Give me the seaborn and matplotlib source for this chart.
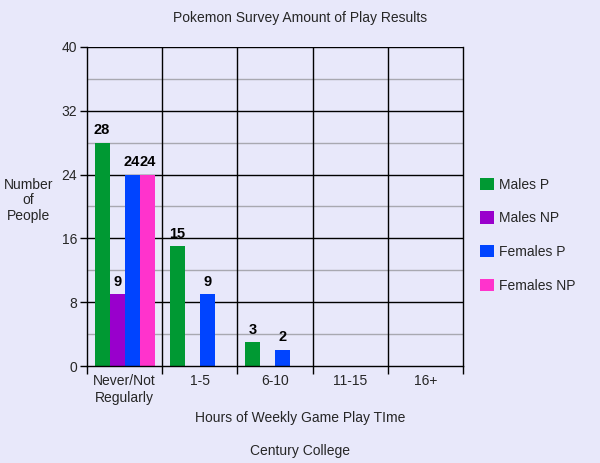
import matplotlib
matplotlib.use("Agg")
import matplotlib.pyplot as plt
from matplotlib.ticker import MultipleLocator, FixedLocator
import seaborn as sns
import pandas as pd
import numpy as np

categories = ["Never/Not\nRegularly", "1-5", "6-10", "11-15", "16+"]
series = ["Males P", "Males NP", "Females P", "Females NP"]
males_p = [28, 15, 3, 0, 0]
males_np = [9, 0, 0, 0, 0]
females_p = [24, 9, 2, 0, 0]
females_np = [24, 0, 0, 0, 0]
colors = ["#009933", "#9900CC", "#0044FF", "#FF33CC"]

rows = []
for s, vals in zip(series, [males_p, males_np, females_p, females_np]):
    for c, v in zip(categories, vals):
        rows.append({"cat": c, "series": s, "value": v})
df = pd.DataFrame(rows)

sns.set_theme(style="white")
plt.rcParams['font.family'] = ['Liberation Sans', 'DejaVu Sans']
bg = "#E8E8FA"
fig = plt.figure(figsize=(6, 4.63), dpi=100, facecolor=bg)
ax = fig.add_axes([0.145, 0.2095, 0.627, 0.689])
ax.set_facecolor(bg)

sns.barplot(data=df, x="cat", y="value", hue="series", palette=colors,
            order=categories, hue_order=series, width=0.8, saturation=1,
            ax=ax, legend=True, edgecolor="none", linewidth=0)

for cont in ax.containers:
    labels = [f"{int(v)}" if v > 0 else "" for v in cont.datavalues]
    ax.bar_label(cont, labels=labels, padding=4, fontsize=10.5, fontweight="bold", color="black")

ax.set_ylim(0, 40)
ax.set_xlim(-0.5, 4.5)
ax.yaxis.set_major_locator(MultipleLocator(8))
ax.yaxis.set_minor_locator(MultipleLocator(4))
ax.grid(False)
ax.set_axisbelow(True)
for y in [4, 12, 20, 28, 36]:
    ax.axhline(y, color="#A8A8B0", linewidth=1, zorder=0)
for y in [8, 16, 24, 32, 40]:
    ax.axhline(y, color="black", linewidth=1, zorder=0)
for x in [0.5, 1.5, 2.5, 3.5]:
    ax.axvline(x, color="black", linewidth=1, zorder=0)

for sp in ["left", "bottom", "right"]:
    ax.spines[sp].set_color("black")
    ax.spines[sp].set_linewidth(1)
ax.spines["top"].set_visible(False)

ax.tick_params(axis="y", which="major", direction="out", length=5, width=1, color="black",
               labelsize=10, left=True, pad=2)
ax.tick_params(axis="y", which="minor", left=False)
ax.set_xticks(range(5))
ax.set_xticklabels(categories, fontsize=10)
ax.tick_params(axis="x", which="major", length=0, pad=6)
ax.xaxis.set_minor_locator(FixedLocator([-0.5, 0.5, 1.5, 2.5, 3.5, 4.5]))
ax.tick_params(axis="x", which="minor", direction="out", length=6, width=1, color="black", bottom=True)

ax.set_xlabel("")
ax.set_ylabel("")

leg = ax.legend(loc="upper left", bbox_to_anchor=(1.012, 0.63), frameon=False,
                fontsize=10, labelspacing=1.42, handlelength=1.0, handleheight=1.0,
                handletextpad=0.35)

fig.text(0.5, 0.962, "Pokemon Survey Amount of Play Results", ha="center", va="center", fontsize=10)
fig.text(0.047, 0.567, "Number\nof\nPeople", ha="center", va="center", fontsize=10, linespacing=1.1)
fig.text(0.5, 0.097, "Hours of Weekly Game Play TIme", ha="center", va="center", fontsize=10)
fig.text(0.5, 0.026, "Century College", ha="center", va="center", fontsize=10)

fig.savefig("out.png", dpi=100, facecolor=bg)
